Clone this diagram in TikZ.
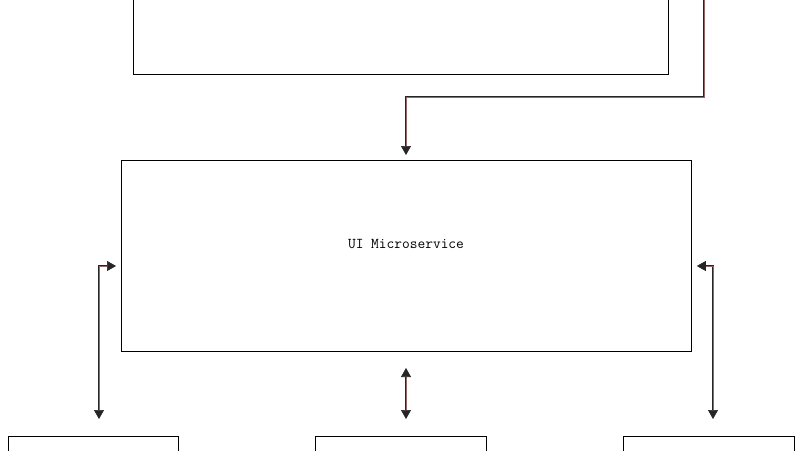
\documentclass[tikz,border=0pt]{standalone}
\usetikzlibrary{arrows.meta}
\begin{document}
\begin{tikzpicture}[x=1pt,y=-1pt,
  box/.style={draw=black,line width=0.8pt,inner sep=0pt},
  conn/.style={draw=black!85,line width=0.7pt,double=red!30!black!60,double distance=0.9pt},
  ar/.tip={Triangle[width=10pt,length=9pt,sep=5pt]}]
\useasboundingbox (0,0) rectangle (800,450);
\node[box,minimum width=535pt,minimum height=100pt,anchor=south west] (top) at (133,75) {};
\node[box,minimum width=570pt,minimum height=191pt,anchor=north west] (ui) at (121,160) {};
\node[font=\ttfamily\fontsize{15}{17}\selectfont] (uit) at (406,244) {UI Microservice};
\node[box,minimum width=170pt,minimum height=40pt,anchor=north west] (b1) at (8,436) {};
\node[box,minimum width=171pt,minimum height=40pt,anchor=north west] (b2) at (315,436) {};
\node[box,minimum width=171pt,minimum height=40pt,anchor=north west] (b3) at (623,436) {};
\coordinate (tin) at (704,0);
\coordinate (l1) at (99,424);
\coordinate (r1) at (713,424);
\coordinate (m1) at (406,424);
\coordinate (m2) at (406,363);
\draw[conn,-ar] (tin) -- (704,97) -- (406,97) -- (ui.north -| 406,0);
\draw[conn,ar-ar] (l1) -- (99,266) -- (ui.west |- 0,266);
\draw[conn,ar-ar] (r1) -- (713,266) -- (ui.east |- 0,266);
\draw[conn,ar-ar] (m1) -- (m2);
\end{tikzpicture}
\end{document}
